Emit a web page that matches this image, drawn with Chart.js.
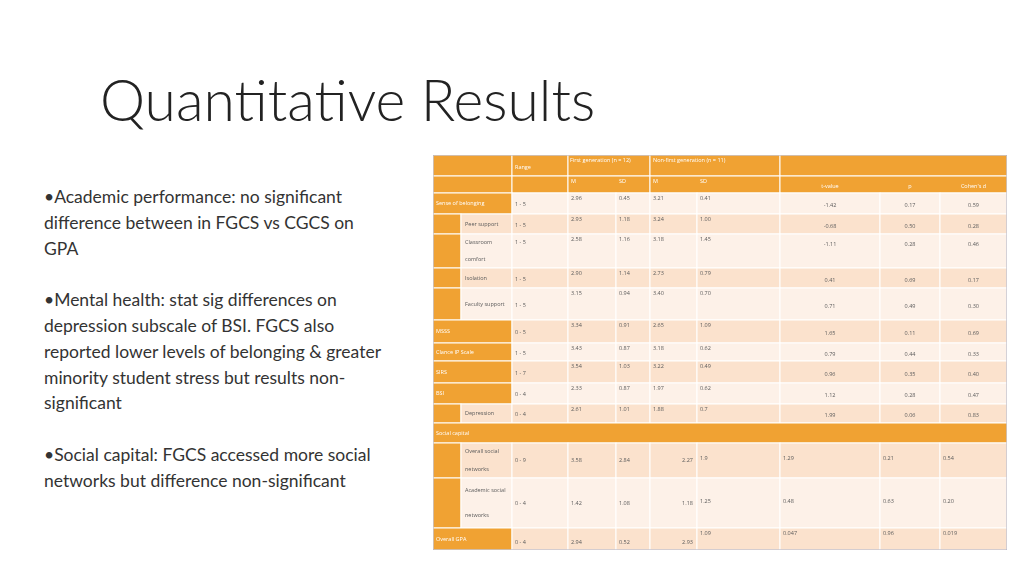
<!DOCTYPE html>
<html>
<head>
<meta charset="utf-8">
<script src="https://cdn.jsdelivr.net/npm/chart.js@4/dist/chart.umd.min.js"></script>
<style>
	body { margin: 0; width: 1024px; height: 576px; background: #fff; position: relative; overflow: hidden; font-family: "Open Sans", sans-serif; }
	h1 { position: absolute; left: 100px; top: 64px; margin: 0; font-family: Lato, sans-serif; font-weight: 300; font-size: 57px; line-height: 70px; color: #222; }
	.bullets { position: absolute; left: 44px; top: 184px; width: 338px; font-family: Lato, sans-serif; font-size: 17.5px; line-height: 25.8px; color: #333; }
	.bullets p { margin: 0 0 25.8px 0; }
	#wrap { position: absolute; left: 433px; top: 155px; width: 574px; height: 395px; }
</style>
</head>
<body>
<h1>Quantitative Results</h1>
<div class="bullets">
	<p>•Academic performance: no significant difference between in FGCS vs CGCS on GPA</p>
	<p>•Mental health: stat sig differences on depression subscale of BSI. FGCS also reported lower levels of belonging &amp; greater minority student stress but results non-significant</p>
	<p>•Social capital: FGCS accessed more social networks but difference non-significant</p>
</div>
<div id="wrap"><canvas id="chart" width="574" height="395"></canvas></div>
<script>
// table data
const rowLabels = ["Sense of belonging", "Peer support", "Classroom comfort", "Isolation", "Faculty support", "MSSS", "Clance IP Scale", "SIRS", "BSI", "Depression", "Social capital", "Overall social networks", "Academic social networks", "Overall GPA"];
const isSubRow = [false, true, true, true, true, false, false, false, false, true, false, true, true, false];
const ranges = ["1 - 5", "1 - 5", "1 - 5", "1 - 5", "1 - 5", "0 - 5", "1 - 5", "1 - 7", "0 - 4", "0 - 4", "", "0 - 9", "0 - 4", "0 - 4"];
const fgM = ["2.96", "2.93", "2.58", "2.90", "3.15", "3.34", "3.43", "3.54", "2.33", "2.61", "", "3.58", "1.42", "2.94"];
const fgSD = ["0.45", "1.18", "1.16", "1.14", "0.94", "0.91", "0.87", "1.03", "0.87", "1.01", "", "2.84", "1.08", "0.52"];
const nfgM = ["3.21", "3.24", "3.18", "2.73", "3.40", "2.65", "3.18", "3.22", "1.97", "1.88", "", "2.27", "1.18", "2.93"];
const nfgSD = ["0.41", "1.00", "1.45", "0.79", "0.70", "1.09", "0.62", "0.49", "0.62", "0.7", "", "1.9", "1.25", "1.09"];
const tValues = ["-1.42", "-0.68", "-1.11", "0.41", "0.71", "1.65", "0.79", "0.96", "1.12", "1.99", "", "1.29", "0.48", "0.047"];
const pValues = ["0.17", "0.50", "0.28", "0.69", "0.49", "0.11", "0.44", "0.35", "0.28", "0.06", "", "0.21", "0.63", "0.96"];
const cohensD = ["0.59", "0.28", "0.46", "0.17", "0.30", "0.69", "0.33", "0.40", "0.47", "0.83", "", "0.54", "0.20", "0.019"];
const statHeaders = ["t-value", "p", "Cohen's d"];

// layout (table units)
const colEdges = [0, 28, 79, 135, 183, 217, 264, 347, 447, 507, 574];
const rowEdges = [0, 21, 38, 59, 79, 113, 133, 165, 188, 206, 228, 249, 268, 288, 323, 373, 395];
const orange = "#F0A233", dark = "#FBE2CD", light = "#FDF1E8", ink = "#5a5a5a";

const wrapWords = (ctx, label, maxW) => {
	const lines = [];
	let cur = "";
	for (const w of label.split(" ")) {
		const next = cur ? `${cur} ${w}` : w;
		if (cur && ctx.measureText(next).width > maxW) {
			lines.push(cur);
			cur = w;
		} else cur = next;
	}
	lines.push(cur);
	return lines;
};

const tablePlugin = {
	id: "table",
	afterDraw: chart => {
		const ctx = chart.ctx;
		const sx = v => chart.scales.x.getPixelForValue(v);
		const sy = v => chart.scales.y.getPixelForValue(v);
		const cell = (c0, c1, r, color) => {
			ctx.fillStyle = color;
			ctx.fillRect(sx(colEdges[c0]), sy(rowEdges[r]), sx(colEdges[c1]) - sx(colEdges[c0]), sy(rowEdges[r + 1]) - sy(rowEdges[r]));
			ctx.strokeStyle = "#fff";
			ctx.lineWidth = 1;
			ctx.strokeRect(sx(colEdges[c0]), sy(rowEdges[r]), sx(colEdges[c1]) - sx(colEdges[c0]), sy(rowEdges[r + 1]) - sy(rowEdges[r]));
		};
		const text = (s, x, y, color, align) => {
			ctx.fillStyle = color || ink;
			ctx.textAlign = align || "left";
			ctx.fillText(s, sx(x), sy(y));
		};
		ctx.save();
		ctx.font = "5.5px 'Open Sans'";
		ctx.textBaseline = "middle";
		for (const r of [0, 1]) {
			cell(0, 2, r, orange);
			cell(2, 3, r, orange);
			cell(3, 5, r, orange);
			cell(5, 7, r, orange);
			cell(7, 10, r, orange);
		}
		text("Range", colEdges[2] + 3, 12, "#fff");
		text("First generation (n = 12)", colEdges[3] + 2, 5, "#fff");
		text("Non-first generation (n = 11)", colEdges[5] + 3, 5, "#fff");
		["M", "SD", "M", "SD"].forEach((h, i) => text(h, colEdges[3 + i] + 3, 26, "#fff"));
		statHeaders.forEach((h, i) => text(h, (colEdges[7 + i] + colEdges[8 + i]) / 2, 31, "#fff", "center"));
		rowLabels.forEach((label, i) => {
			const r = i + 2;
			const y0 = rowEdges[r], y1 = rowEdges[r + 1], ym = (y0 + y1) / 2;
			const bg = i % 2 === 0 ? light : dark;
			if (label === "Social capital") {
				cell(0, 10, r, orange);
				text(label, 3, ym, "#fff");
				return;
			}
			const multi = isSubRow[i] && ctx.measureText(label).width > 44;
			if (isSubRow[i]) {
				cell(0, 1, r, orange);
				cell(1, 2, r, bg);
				const lines = wrapWords(ctx, label, 44);
				const step = (y1 - y0) / lines.length;
				lines.forEach((w, k) => text(w, colEdges[1] + 4, y0 + step * (k + 0.5)));
			} else {
				cell(0, 2, r, orange);
				text(label, 3, ym, "#fff");
			}
			for (let c = 2; c < 10; c++) cell(c, c + 1, r, bg);
			if (i > 10) {
				const gpa = i === 13;
				const vy = gpa ? ym + 3 : ym;
				text(ranges[i], colEdges[2] + 3, vy);
				text(fgM[i], colEdges[3] + 3, vy);
				text(fgSD[i], colEdges[4] + 3, vy);
				text(nfgM[i], colEdges[6] - 4, vy, ink, "right");
				const ty = gpa ? y0 + 5 : ym - 2;
				text(nfgSD[i], colEdges[6] + 3, ty);
				text(tValues[i], colEdges[7] + 3, ty);
				text(pValues[i], colEdges[8] + 3, ty);
				text(cohensD[i], colEdges[9] + 3, ty);
			} else {
				const vy = y0 + 5;
				text(ranges[i], colEdges[2] + 3, multi ? y0 + 8 : ym + 1);
				text(fgM[i], colEdges[3] + 3, vy);
				text(fgSD[i], colEdges[4] + 3, vy);
				text(nfgM[i], colEdges[5] + 3, vy);
				text(nfgSD[i], colEdges[6] + 3, vy);
				const ty = multi ? y0 + 10 : ym + 2;
				text(tValues[i], (colEdges[7] + colEdges[8]) / 2, ty, ink, "center");
				text(pValues[i], (colEdges[8] + colEdges[9]) / 2, ty, ink, "center");
				text(cohensD[i], (colEdges[9] + colEdges[10]) / 2, ty, ink, "center");
			}
		});
		ctx.strokeStyle = "#aab";
		ctx.strokeRect(sx(0), sy(0), sx(574) - sx(0), sy(395) - sy(0));
		ctx.restore();
	},
};

new Chart(document.querySelector("#chart").getContext("2d"), {
	type: "scatter",
	data: { datasets: [] },
	options: {
		responsive: false,
		animation: false,
		layout: { padding: 0 },
		plugins: { legend: { display: false }, tooltip: { enabled: false } },
		scales: {
			x: { type: "linear", min: 0, max: 574, display: false },
			y: { type: "linear", min: 0, max: 395, reverse: true, display: false },
		},
	},
	plugins: [tablePlugin],
});
</script>
</body>
</html>
